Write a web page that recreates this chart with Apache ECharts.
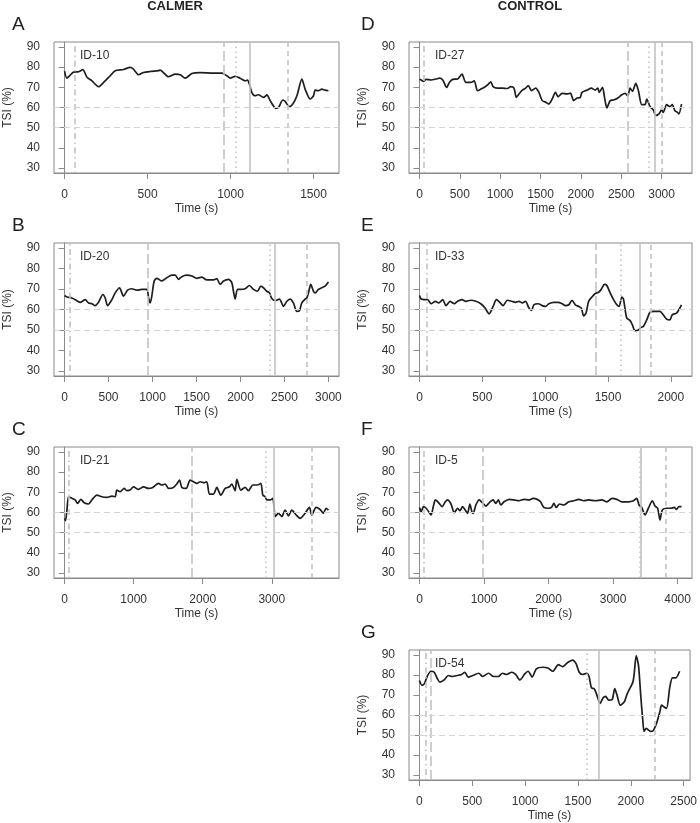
<!DOCTYPE html>
<html>
<head>
<meta charset="utf-8">
<script src="https://cdn.jsdelivr.net/npm/echarts@6/dist/echarts.min.js"></script>
<style>
html,body{margin:0;padding:0;background:#fff;}
#chart{width:700px;height:823px;}
</style>
</head>
<body>
<div id="chart"></div>
<script>
// ---- Data (time s, TSI %) ----
const seriesA = [[0,78],[14,74.5],[34,76],[54,77.5],[84,77.7],[110,78.7],[135,75],[165,73.2],[205,70.3],[235,72.4],[275,75.7],[305,78.2],[355,78.8],[395,79.8],[415,79],[446,76.2],[476,77.3],[516,77.8],[566,78.2],[576,78.5],[626,75.2],[667,76.5],[697,76.2],[727,74.5],[767,76.8],[817,77.3],[898,77],[948,77],[978,75.7],[998,74.5],[1028,75.4],[1058,74.5],[1088,73.2],[1102,73.5],[1114,71.5],[1128,67.5],[1148,65.8],[1168,66.3],[1199,65],[1219,66.2],[1239,63.4],[1273,59.6],[1289,60],[1315,63.7],[1329,63],[1355,60.4],[1375,61.7],[1400,65.8],[1430,74],[1450,69],[1480,64.2],[1500,65.8],[1510,68.6],[1530,68.3],[1550,69.1],[1570,68.6],[1590,68.3]];
const seriesB = [[0,66.8],[27,66.1],[83,65.6],[140,64.3],[178,63.5],[235,64.8],[273,63.2],[311,62.8],[348,61.9],[386,63.5],[436,67.3],[462,65.6],[489,61.9],[538,64.8],[576,68.1],[625,70.6],[640,69.4],[670,66.5],[716,69.4],[765,70.1],[822,69.4],[879,69.8],[936,69.8],[955,65.6],[973,63.2],[992,66.5],[1019,73.9],[1049,75.2],[1106,73.9],[1163,75.5],[1220,76.7],[1258,76.7],[1296,74.7],[1333,76],[1390,76.7],[1447,76.3],[1504,75.2],[1561,75.8],[1617,74.4],[1693,74.4],[1731,75],[1769,72.2],[1807,73.9],[1864,74.7],[1902,73],[1920,68.9],[1939,65.1],[1966,69.8],[1996,69.8],[2053,70.1],[2102,71.7],[2148,69.8],[2193,68.9],[2231,71.4],[2261,70.6],[2299,68.9],[2330,68.1],[2356,65.3],[2394,64.3],[2443,65.1],[2489,61.5],[2527,64],[2564,65.1],[2602,63.2],[2640,59.1],[2670,59.4],[2697,63.2],[2735,65.1],[2754,65.6],[2773,68.1],[2799,72.2],[2830,68.9],[2849,68.1],[2886,69.8],[2924,70.6],[2962,71.4],[3000,73.4]];
const seriesC = [[0,57.1],[14,56],[34,61.2],[58,67.8],[106,67],[154,66.2],[188,64.5],[236,66.5],[285,64.8],[347,64.2],[395,66.2],[468,68.6],[540,67.8],[613,67.5],[685,68.1],[733,67.8],[757,71.1],[805,70.3],[863,71.9],[902,70.8],[950,71.1],[998,72.7],[1071,71.4],[1143,72.7],[1215,71.9],[1278,72.4],[1360,74.4],[1408,73.6],[1457,74.1],[1505,71.9],[1577,72.4],[1625,74.1],[1664,76],[1698,72.4],[1760,71.9],[1818,76],[1866,75.2],[1915,74.4],[1963,75.2],[2021,74.7],[2059,75.2],[2098,69.1],[2156,69.1],[2204,72.4],[2262,68.6],[2325,71.9],[2387,72.7],[2421,74.1],[2469,70.8],[2494,76.4],[2551,71.1],[2614,72.4],[2662,70.8],[2725,73.6],[2793,73.6],[2841,74.4],[2870,68.6],[2904,67.8],[2928,66.2],[2976,66.2],[3014,67],[3034,62.1],[3048,58],[3096,59.6],[3145,58],[3193,61.2],[3241,58.3],[3289,61.2],[3352,58.8],[3410,57.1],[3482,59.6],[3545,62.5],[3579,58.8],[3641,62.5],[3699,61.5],[3747,59.6],[3786,62.1],[3820,61.2]];
const seriesD = [[0,74],[21,73.6],[49,72.9],[82,73.9],[144,73.6],[206,74.1],[247,74.5],[288,73.6],[337,69.9],[370,72.4],[411,73.9],[473,74.1],[526,76.5],[575,72.4],[637,72.4],[678,73.2],[719,68.3],[760,69.1],[814,70.3],[855,71.6],[884,72.7],[912,70.3],[966,69.6],[1028,69.6],[1089,69.4],[1130,70.3],[1171,69.6],[1200,65],[1233,66.7],[1274,68.6],[1315,69.6],[1348,70.8],[1389,68.3],[1439,69.6],[1480,67.5],[1521,63.4],[1570,62.5],[1603,61.7],[1644,64.2],[1685,67.5],[1718,65.3],[1767,67],[1829,66.7],[1870,67.1],[1911,63.4],[1952,64.7],[1993,65],[2014,67.5],[2076,68.6],[2129,69.6],[2178,68.6],[2211,69.6],[2227,67.5],[2268,70],[2293,65],[2322,59.8],[2363,63.4],[2404,63.7],[2458,64.7],[2507,66.3],[2548,67],[2581,65.8],[2610,69.6],[2639,68],[2680,71.9],[2713,68.3],[2754,61.4],[2795,61.4],[2816,64.2],[2857,60.4],[2898,58.8],[2926,56],[2968,56.8],[3000,58.8],[3021,57.6],[3062,61.4],[3103,60.4],[3132,61.4],[3165,58.4],[3198,57.6],[3214,56.8],[3247,61.7]];
const seriesE = [[0,66.8],[13,65.1],[40,64.8],[66,64.8],[92,62.8],[127,64],[153,63.2],[185,64.8],[211,61.9],[243,64],[277,62.8],[303,64],[338,64.8],[369,64],[409,64.5],[449,64],[488,62.8],[522,60.7],[554,57.9],[586,61.5],[612,64.8],[639,63.5],[665,61.9],[699,64.5],[734,64],[765,63.5],[792,64],[818,63.2],[844,64],[871,60.7],[892,59.6],[910,62.3],[945,62.8],[976,61.9],[1003,61.5],[1029,62.8],[1069,63.5],[1103,63.5],[1135,62.8],[1161,61.9],[1188,62.3],[1214,64.5],[1240,62.3],[1267,61.5],[1288,60.7],[1306,56.9],[1325,58.2],[1346,64],[1372,66.1],[1399,67.8],[1425,68.4],[1446,69.8],[1472,72.2],[1491,71.7],[1517,68.1],[1544,64.8],[1570,62.3],[1589,61.5],[1610,66.1],[1623,65.1],[1649,55.8],[1676,54.6],[1694,52.5],[1715,49.7],[1742,50],[1763,51.3],[1781,51.7],[1808,54.9],[1834,58.6],[1868,59.1],[1913,59.1],[1940,57.4],[1966,55.3],[1992,54.9],[2011,57.4],[2045,58.2],[2064,59.9],[2085,62.3]];
const seriesF = [[0,62.5],[26,60.4],[62,62.9],[103,62.1],[154,59.9],[180,58.8],[216,63.2],[247,66.2],[298,64.8],[350,62.9],[401,65.3],[437,66.2],[488,64.2],[540,59.9],[591,62.1],[627,60.9],[668,62.9],[709,61.2],[745,59.6],[781,64.2],[812,60.4],[833,59.6],[874,63.7],[925,66.2],[977,64.8],[1028,63.2],[1080,64.8],[1141,66.2],[1182,64.5],[1224,66.2],[1260,63.7],[1311,65.3],[1388,66.5],[1465,66.2],[1542,65.8],[1619,66.5],[1697,66.2],[1758,67],[1825,66.5],[1876,65.3],[1928,62.5],[1995,62.1],[2046,62.5],[2082,64.5],[2118,62.5],[2170,64.2],[2236,63.7],[2313,65.3],[2391,65.8],[2468,66.5],[2545,65.8],[2622,66.2],[2725,65.8],[2828,66.2],[2905,65.3],[2982,67],[3059,66.5],[3136,65.3],[3239,65.3],[3316,65.8],[3367,67],[3403,63.7],[3444,62.5],[3496,58.8],[3547,62.1],[3609,65.8],[3650,63.2],[3691,62.1],[3727,56.3],[3763,61.2],[3830,62.1],[3897,62.1],[3948,62.5],[3984,61.5],[4020,62.9],[4061,62.9]];
const seriesG = [[0,77.2],[25,74.8],[47,75.6],[78,79.7],[109,81.8],[140,81.3],[171,78],[193,76.4],[234,77.5],[274,79.7],[312,79.2],[358,79.7],[399,80.2],[430,81.3],[461,78.9],[505,79.7],[561,80.8],[598,79.2],[655,80.8],[701,79.2],[748,79.2],[785,80.8],[826,80.2],[873,81.3],[910,80.2],[951,77.5],[997,80.5],[1029,81.8],[1066,78.9],[1107,83],[1169,83.8],[1216,83.4],[1262,81.8],[1315,85.1],[1356,84.1],[1403,86.2],[1449,87.4],[1481,85.7],[1512,81.3],[1543,80.2],[1583,80.8],[1605,79.2],[1627,73.6],[1652,73.1],[1668,71.5],[1690,68.2],[1708,65.7],[1740,68.7],[1761,69.3],[1792,67.4],[1824,67.7],[1848,73.1],[1870,69.8],[1901,64.9],[1939,66.6],[1964,70.3],[1995,73.6],[2020,76.4],[2032,80.5],[2051,89.5],[2073,84.6],[2095,69],[2113,57.5],[2126,51.8],[2145,53.4],[2166,52.6],[2188,51.8],[2213,52.3],[2244,55.9],[2275,61.6],[2291,64.9],[2313,64.1],[2338,63.3],[2369,73.9],[2394,78.5],[2425,78.5],[2462,81.8]];

// event markers (s): [dotdash, longdash, dotted, solid, dashed]
const eventsA = [60, 958, 1034, 1118, 1343];
const eventsB = [57, 948, 2330, 2386, 2755];
const eventsC = [58, 1843, 2914, 3025, 3574];
const eventsD = [58, 2581, 2836, 2910, 3000];
const eventsE = [58, 1404, 1602, 1750, 1842];
const eventsF = [62, 977, 3410, 3431, 3822];
const eventsG = [63, 109, 1587, 1693, 2228];

// tick labels
const ticksA = [0, 500, 1000, 1500];
const ticksB = [0, 500, 1000, 1500, 2000, 2500, 3000];
const ticksC = [0, 1000, 2000, 3000];
const ticksD = [0, 500, 1000, 1500, 2000, 2500, 3000];
const ticksE = [0, 500, 1000, 1500, 2000];
const ticksF = [0, 1000, 2000, 3000, 4000];
const ticksG = [0, 500, 1000, 1500, 2000, 2500];
const yTicks = [30, 40, 50, 60, 70, 80, 90];
const thresholds = [60, 50];

const letters = ['A','B','C','D','E','F','G'];
const ids = ['ID-10','ID-20','ID-21','ID-27','ID-33','ID-5','ID-54'];
const groupTitles = ['CALMER', 'CONTROL'];

// ---- layout ----
const FONT = 'Liberation Sans, Arial, Helvetica, sans-serif';
const L = {left:54, width:285}, R = {left:409, width:283};
const rows = [{top:42,height:131},{top:243,height:133},{top:447,height:131},{top:650,height:131}];
const panels = [
  {data:seriesA, ev:eventsA, ticks:ticksA, col:L, row:rows[0]},
  {data:seriesB, ev:eventsB, ticks:ticksB, col:L, row:rows[1]},
  {data:seriesC, ev:eventsC, ticks:ticksC, col:L, row:rows[2]},
  {data:seriesD, ev:eventsD, ticks:ticksD, col:R, row:rows[0]},
  {data:seriesE, ev:eventsE, ticks:ticksE, col:R, row:rows[1]},
  {data:seriesF, ev:eventsF, ticks:ticksF, col:R, row:rows[2]},
  {data:seriesG, ev:eventsG, ticks:ticksG, col:R, row:rows[3]}
];
const evStyles = [
  [1.5,3.5,6,3.5],
  [10,4],
  [1.5,3.5],
  'solid',
  [5,4]
];
const axisGray = '#8a8a8a', textCol = '#333';

const grid = [], xAxis = [], yAxis = [], series = [], graphic = [];
panels.forEach((p, i) => {
  const tmax = p.data[p.data.length-1][0];
  grid.push({left:p.col.left, width:p.col.width, top:p.row.top, height:p.row.height,
    show:true, borderColor:axisGray, borderWidth:1, containLabel:false});
  xAxis.push({type:'value', gridIndex:i, min:-0.04*tmax, max:1.04*tmax,
    axisLine:{show:true, lineStyle:{color:axisGray}},
    splitLine:{show:false},
    axisTick:{show:true, length:6, lineStyle:{color:axisGray}, customValues:p.ticks},
    axisLabel:{customValues:p.ticks, margin:16, fontSize:12, color:textCol, fontFamily:FONT,
      formatter:(v) => String(v)},
    name:'Time (s)', nameLocation:'middle', nameGap:30,
    nameTextStyle:{fontSize:12, color:textCol, fontFamily:FONT}});
  yAxis.push({type:'value', gridIndex:i, min:27.6, max:92.4,
    axisLine:{show:true, lineStyle:{color:axisGray}},
    splitLine:{show:false},
    axisTick:{show:true, length:6, lineStyle:{color:axisGray}, customValues:yTicks},
    axisLabel:{customValues:yTicks, margin:14, fontSize:12, color:textCol, fontFamily:FONT,
      formatter:(v) => String(v)},
    name:'TSI (%)', nameLocation:'middle', nameGap:40,
    nameTextStyle:{fontSize:12, color:textCol, fontFamily:FONT}});
  const ml = p.ev.map((v, k) => ({xAxis:v, lineStyle:{type:evStyles[k], color:'#c2c2c2', width:1.6}}))
    .concat(thresholds.map(v => ({yAxis:v, lineStyle:{type:[6,4], color:'#d4d4d4', width:1}})));
  series.push({type:'line', xAxisIndex:i, yAxisIndex:i, data:p.data, z:1, silent:true,
    showSymbol:false, lineStyle:{opacity:0}, animation:false,
    markLine:{symbol:'none', silent:true, animation:false, label:{show:false}, data:ml}});
  series.push({type:'line', xAxisIndex:i, yAxisIndex:i, data:p.data, z:3,
    showSymbol:false, smooth:0.25, animation:false,
    lineStyle:{color:'#1e1e1e', width:1.7}});
  // panel letter
  graphic.push({type:'text', left:(p.col===L?12:361), top:p.row.top-27,
    style:{text:letters[i], font:'19px '+FONT, fill:'#222'}});
  // id label
  graphic.push({type:'text', left:p.col.left+26, top:p.row.top+8,
    style:{text:ids[i], font:'12px '+FONT, fill:'#333'}});
});
graphic.push({type:'text', x:175, y:0, style:{text:groupTitles[0], font:'bold 13px '+FONT, fill:'#222', align:'center', verticalAlign:'top'}});
graphic.push({type:'text', x:530, y:0, style:{text:groupTitles[1], font:'bold 13px '+FONT, fill:'#222', align:'center', verticalAlign:'top'}});

const chart = echarts.init(document.getElementById('chart'), null, {renderer:'canvas'});
chart.setOption({animation:false, backgroundColor:'#fff', grid, xAxis, yAxis, series, graphic});
</script>
</body>
</html>
